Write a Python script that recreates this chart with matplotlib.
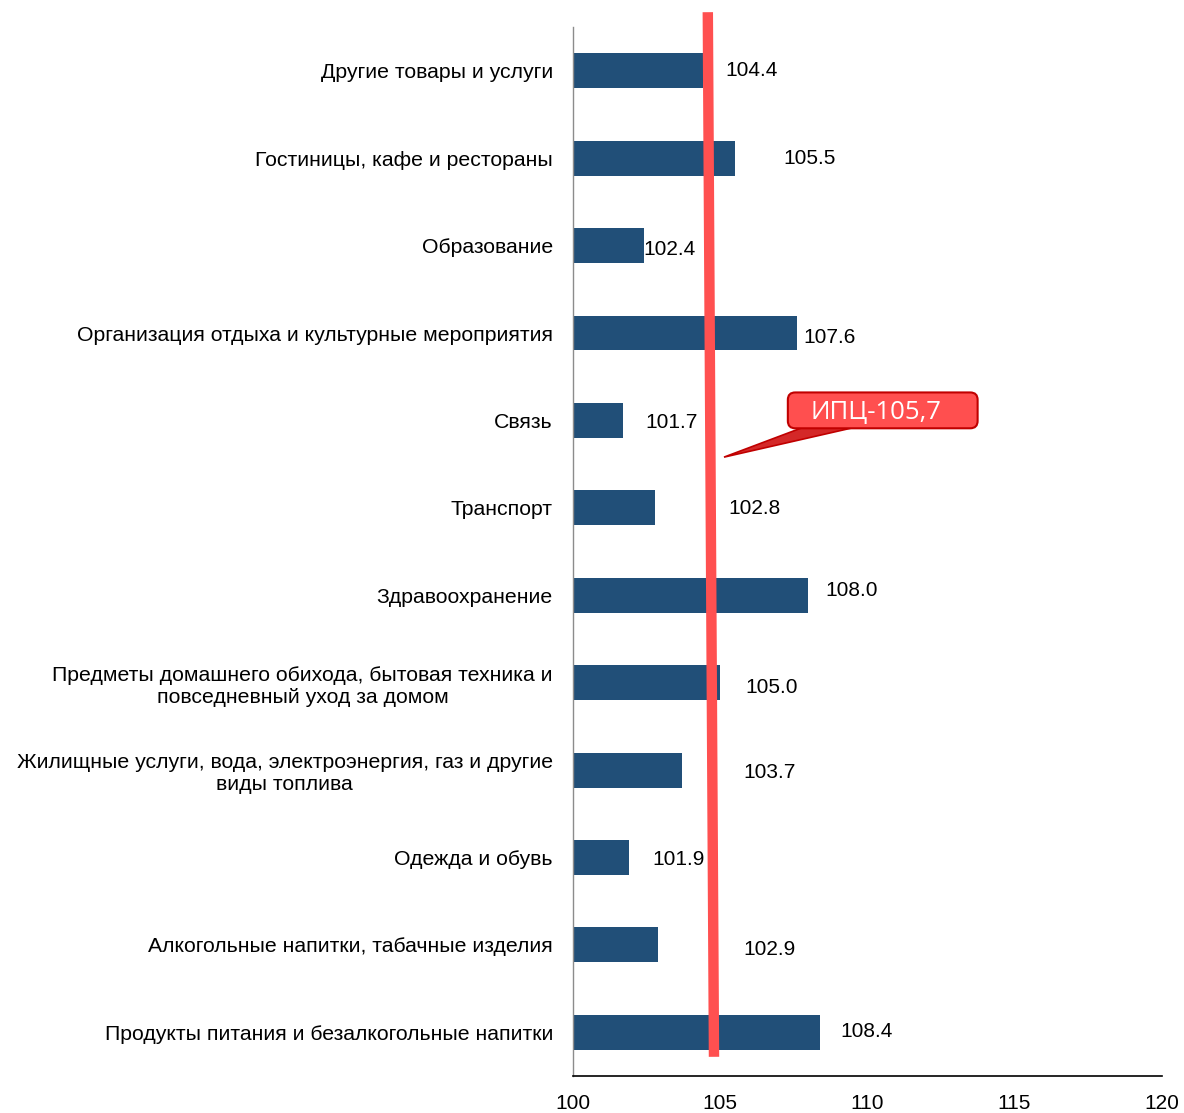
import matplotlib.pyplot as plt
from matplotlib.patches import FancyBboxPatch, Polygon
import numpy as np

plt.rcParams["font.family"] = ["Liberation Sans", "DejaVu Sans"]

# categories from bottom to top
categories = [
    "Продукты питания и безалкогольные напитки",
    "Алкогольные напитки, табачные изделия",
    "Одежда и обувь",
    "Жилищные услуги, вода, электроэнергия, газ и другие\nвиды топлива",
    "Предметы домашнего обихода, бытовая техника и\nповседневный уход за домом",
    "Здравоохранение",
    "Транспорт",
    "Связь",
    "Организация отдыха и культурные мероприятия",
    "Образование",
    "Гостиницы, кафе и рестораны",
    "Другие товары и услуги",
]
values = [108.4, 102.9, 101.9, 103.7, 105.0, 108.0, 102.8, 101.7, 107.6, 102.4, 105.5, 104.4]
cpi_label = "ИПЦ-105,7"
xticks = [100, 105, 110, 115, 120]

# label placement (offsets from bar end, data units)
label_dx = [1.58, 3.76, 1.67, 2.99, 1.76, 1.47, 3.38, 1.66, 1.13, 0.89, 2.55, 1.68]
label_dy = [0.01, -0.05, -0.02, -0.03, -0.05, 0.06, -0.01, -0.02, -0.05, -0.05, 0.0, 0.0]

bar_color = "#214F78"
red = "#FF5050"

fig = plt.figure(figsize=(11.84, 11.13), dpi=100)
ax = fig.add_axes([0.484, 0.0332, 0.497, 0.9425])

y = np.arange(len(categories))
ax.barh(y, [v - 100 for v in values], left=100, height=0.4, color=bar_color, zorder=2)

for i, v in enumerate(values):
    ax.text(v + label_dx[i], i + label_dy[i], f"{v:.1f}", ha="center", va="center",
            fontsize=15, color="black", zorder=3)

ax.set_xlim(100, 120)
ax.set_ylim(-0.5, len(categories) - 0.5)
ax.set_xticks(xticks)
ax.set_xticklabels([str(t) for t in xticks], fontsize=15)
ax.set_yticks(y)
ax.set_yticklabels(categories, fontsize=15.3, multialignment="center")
ax.tick_params(axis="both", length=0)
ax.tick_params(axis="y", pad=14.5)
ax.tick_params(axis="x", pad=13)

for s in ["top", "right"]:
    ax.spines[s].set_visible(False)
ax.spines["left"].set_color("#8C8C8C")
ax.spines["left"].set_linewidth(1)
ax.spines["bottom"].set_color("black")
ax.spines["bottom"].set_linewidth(1.2)

# CPI line (slightly slanted, as drawn in the source)
ax.plot([104.58, 104.79], [11.67, -0.28], color=red, lw=7.5, solid_capstyle="butt",
        clip_on=False, zorder=5)

# callout: pointer wedge + rounded box
wedge = Polygon([(105.13, 6.58), (108.05, 6.95), (109.95, 6.95)], closed=True,
                fc="#D42828", ec="#C00000", lw=1.2, clip_on=False, zorder=6)
ax.add_patch(wedge)
box = FancyBboxPatch((107.30, 6.91), 6.45, 0.41,
                     boxstyle="round,pad=0,rounding_size=0.25",
                     mutation_aspect=29.45 / 87.42,
                     fc="#FF4F4F", ec="#C00000", lw=1.5, clip_on=False, zorder=7)
ax.add_patch(box)
ax.text(110.3, 7.09, cpi_label, ha="center", va="center", fontsize=18.5, color="white",
        family=["Open Sans", "DejaVu Sans"], zorder=8)

fig.savefig("out.png", dpi=100)
